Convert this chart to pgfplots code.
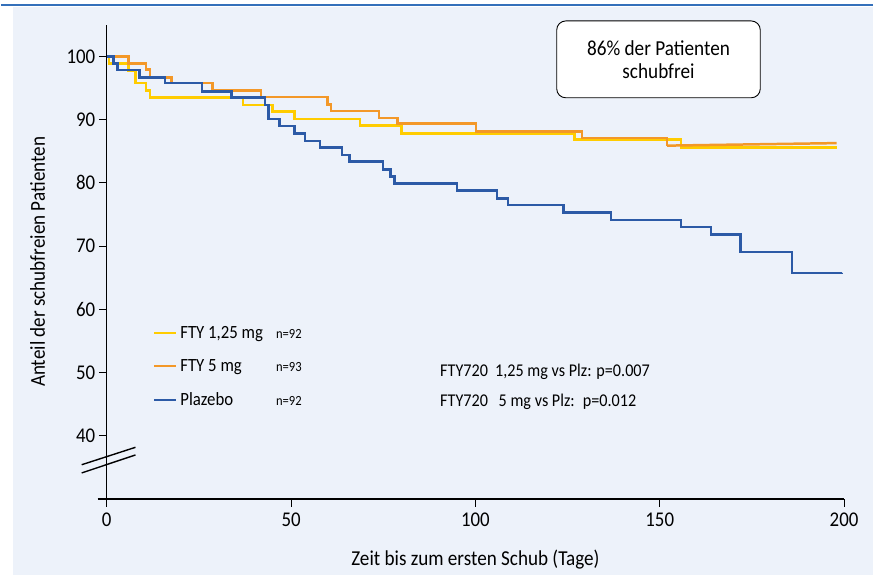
\documentclass[border=0pt]{standalone}
\usepackage{pgfplots}
\pgfplotsset{compat=1.18}
\usepackage{fontspec}
\setmainfont[FakeStretch=0.9]{Carlito}
\definecolor{bgblue}{RGB}{237,242,250}
\definecolor{topblue}{RGB}{52,112,186}
\definecolor{cyel}{RGB}{255,204,0}
\definecolor{corg}{RGB}{243,152,40}
\definecolor{cblu}{RGB}{44,90,166}
\newcommand{\fsz}[2]{\fontsize{#1}{#2}\selectfont}
\begin{document}
\begin{tikzpicture}
\fill[white] (0pt,0pt) rectangle (874pt,576pt);
\fill[bgblue] (12pt,0pt) rectangle (874pt,569pt);
\draw[topblue, line width=2pt] (0pt,570.8pt) -- (874pt,570.8pt);
\begin{axis}[
  at={(106pt,76pt)}, anchor=south west,
  width=739pt, height=475pt, scale only axis,
  xmin=0, xmax=200, ymin=30, ymax=105,
  axis lines*=left,
  axis line style={line width=1.3pt, black},
  xtick={0,50,100,150,200}, ytick={40,50,60,70,80,90,100},
  tick align=outside,
  major tick length=8pt,
  every tick/.style={black, line width=1.1pt},
  tick label style={font=\fsz{21}{24}},
  xticklabel style={yshift=-3pt},
  /pgf/number format/assume math mode=true,
  xlabel={Zeit bis zum ersten Schub (Tage)},
  ylabel={Anteil der schubfreien Patienten},
  label style={font=\fsz{21.3}{25}},
  xlabel style={at={(axis description cs:0.5,-0.128)}, anchor=center},
  ylabel style={at={(axis description cs:-0.094,0.5)}, anchor=center},
  clip=false,
  legend style={draw=none, fill=none, inner sep=0pt,
    at={(axis description cs:0.063,0.368)}, anchor=north west,
    font=\fsz{18.7}{22}, row sep=15.5pt,
    nodes={inner ysep=2pt, inner xsep=3pt}},
  legend cell align=left,
  legend image code/.code={\draw[#1, line width=2pt] (0pt,0pt) -- (22pt,0pt);},
]
\addplot[const plot, cyel, line width=2.5pt] coordinates {
(0,100) (0.6,98.9) (5.9,97.7) (7.8,95.8) (10.6,94.6) (11.7,93.5) (36.9,92.3)
(44.9,91.3) (50.9,90.1) (68.7,89.05) (79.9,87.85) (126.9,86.9) (155.8,85.6) (198,85.6)};
\addlegendentry{\makebox[96pt][l]{FTY 1,25 mg}{\fsz{14}{16}n=92}}
\addplot[const plot, corg, line width=2.5pt] coordinates {
(0,100) (5.9,98.9) (10.6,97.95) (11.7,96.7) (17.6,95.8) (28.7,94.6) (41.9,93.6)
(59.9,92.4) (60.8,91.4) (73.8,90.3) (78.9,89.4) (100.1,88.1) (128.9,87.1) (152,85.9)};
\addlegendentry{\makebox[96pt][l]{FTY 5 mg}{\fsz{14}{16}n=93}}
\addplot[corg, line width=2.5pt, forget plot] coordinates {(152,85.9) (198,86.3)};
\addplot[const plot, cblu, line width=2.5pt] coordinates {
(0,100) (1.8,98.9) (2.9,97.9) (8.9,96.7) (15.8,95.8) (25.9,94.5) (33.9,93.5)
(42.9,92.3) (43.9,90.1) (46.8,89.0) (50.9,87.8) (53.8,86.6) (57.9,85.6) (63.8,84.4)
(65.8,83.4) (75.0,82.15) (77.0,81.0) (78.0,79.9) (95.0,78.8) (105.9,77.55) (108.9,76.5)
(123.9,75.35) (136.8,74.1) (155.7,73.0) (163.9,71.8) (171.9,69.1) (185.9,65.75) (199.4,65.8)};
\addlegendentry{\makebox[96pt][l]{Plazebo}{\fsz{14}{16}n=92}}
\draw[line width=1.3pt] (axis cs:-2.5,30) -- (axis cs:0,30);
\draw[line width=1.4pt] (axis cs:-6.8,34.1) -- (axis cs:7.8,36.95);
\draw[line width=1.4pt] (axis cs:-6.8,35.4) -- (axis cs:7.8,38.16);
\node[anchor=west, inner sep=0pt, font=\fsz{18}{22}] at (axis cs:90.4,50.1)
  {FTY720\hspace{0.4em}1,25 mg vs Plz: p=0.007};
\node[anchor=west, inner sep=0pt, font=\fsz{18}{22}] at (axis cs:90.4,45.3)
  {FTY720\hspace{0.6em}5 mg vs Plz:\hspace{0.45em}p=0.012};
\end{axis}
\draw[line width=0.9pt, rounded corners=9pt, fill=white] (557pt,478pt) rectangle (761pt,555pt);
\node[align=center, inner sep=0pt, font=\fsz{21.4}{23.4}] at (659pt,516pt) {86\% der Patienten\\schubfrei};
\end{tikzpicture}
\end{document}
